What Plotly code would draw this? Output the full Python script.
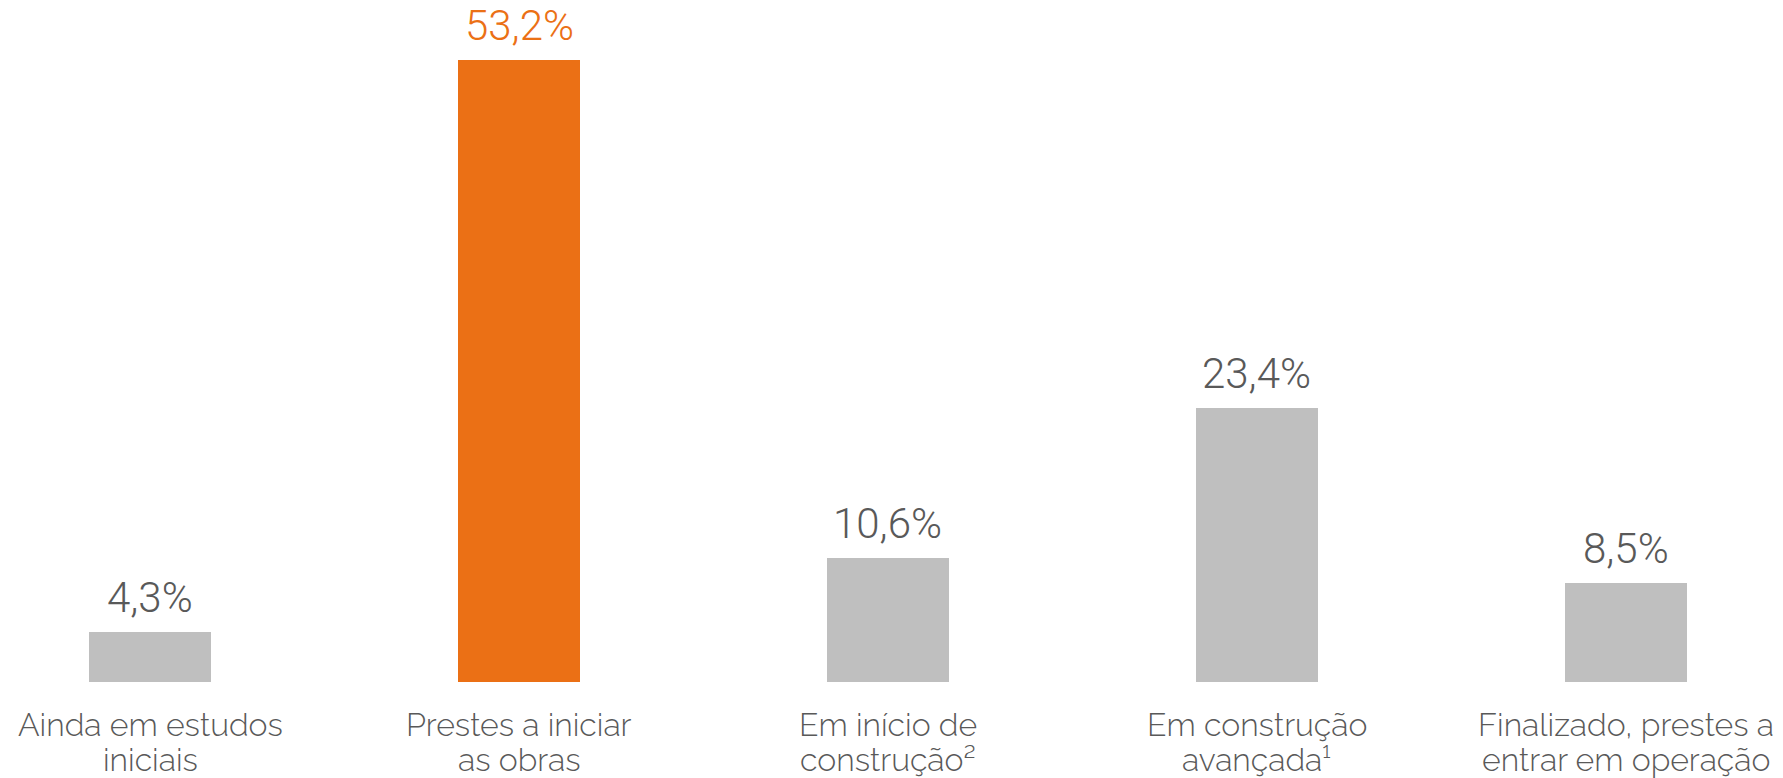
import plotly.graph_objects as go

# two-line category labels
label_line1 = [
    "Ainda em estudos",
    "Prestes a iniciar",
    "Em início de",
    "Em construção",
    "Finalizado, prestes a",
]
label_line2 = [
    "iniciais",
    "as obras",
    "construção²",
    "avançada¹",
    "entrar em operação",
]
values = [4.3, 53.2, 10.6, 23.4, 8.5]
value_labels = ["4,3%", "53,2%", "10,6%", "23,4%", "8,5%"]
highlight_index = 1

GRAY_BAR = "#BFBFBF"
ORANGE = "#EB7015"
TEXT_GRAY = "#595959"
LABEL_FONT = "Raleway, Lato, sans-serif"
VALUE_FONT = "Roboto, Arial, sans-serif"

bar_colors = [ORANGE if i == highlight_index else GRAY_BAR for i in range(len(values))]
x_pos = list(range(len(values)))

fig = go.Figure(
    go.Bar(
        x=x_pos,
        y=values,
        marker=dict(color=bar_colors, line=dict(width=0)),
        width=0.333,
        hoverinfo="skip",
    )
)

for i, (v, lbl) in enumerate(zip(values, value_labels)):
    fig.add_annotation(
        x=i, y=v, text=lbl, showarrow=False,
        yanchor="bottom", yshift=9, borderpad=0,
        font=dict(family=VALUE_FONT, size=42,
                  color=ORANGE if i == highlight_index else TEXT_GRAY, weight=300),
    )

for i, (l1, l2) in enumerate(zip(label_line1, label_line2)):
    for txt, shift in ((l1, -42), (l2, -77)):
        fig.add_annotation(
            x=i, xref="x", y=0, yref="paper", text=txt, showarrow=False,
            yanchor="middle", yshift=shift, borderpad=0,
            font=dict(family=LABEL_FONT, size=32, color=TEXT_GRAY, weight=300),
        )

fig.update_layout(
    width=1783, height=778,
    margin=dict(l=0, r=0, t=0, b=96),
    paper_bgcolor="white", plot_bgcolor="white",
    showlegend=False,
    bargap=0,
    xaxis=dict(
        range=[-0.4065, 4.4255], showticklabels=False,
        showgrid=False, zeroline=False, showline=False, ticks="",
    ),
    yaxis=dict(
        range=[0, 58.33], visible=False, showgrid=False, zeroline=False,
    ),
)

fig.write_html("out.html")
